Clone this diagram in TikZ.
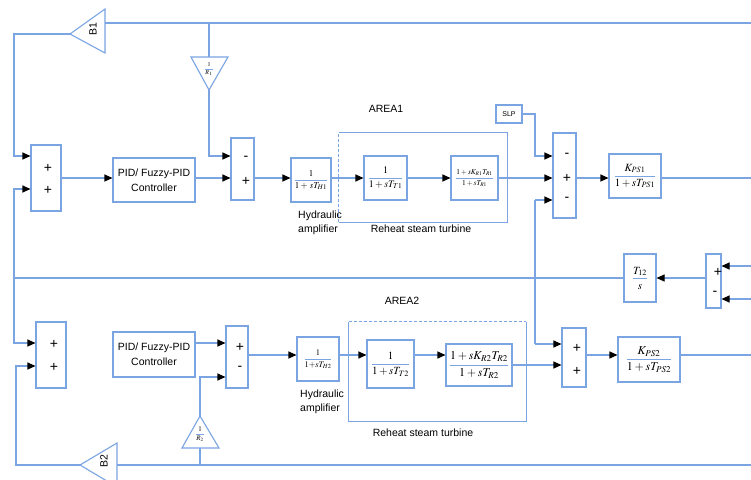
\documentclass[tikz,border=0pt]{standalone}
\usepackage{mathptmx}
\usepackage[no-math]{fontspec}
\setmainfont{Liberation Sans}
\usetikzlibrary{arrows.meta}
\definecolor{lb}{RGB}{122,164,226}
% fraction with a blue bar and black terms
\newcommand\bfr[2]{{\color{lb}\frac{\color{black}#1}{\color{black}#2}}}
\newcommand\fs[1]{\fontsize{#1}{#1}\selectfont}
\tikzset{
  blk/.style={draw=lb, line width=1.1pt, rectangle, inner sep=0pt, align=center},
  ln/.style={draw=lb, line width=1.1pt},
  arr/.style={ln, -{Triangle[length=8pt,width=7pt,color=black]}},
  sgn/.style={font=\fs{14}, inner sep=0pt},
  lbl/.style={font=\fs{10.5}, inner sep=0pt},
  lbl2/.style={font=\fontsize{10.5}{14}\selectfont, inner sep=0pt, align=left, anchor=west},
}
\begin{document}
\begin{tikzpicture}[x=1pt,y=-1pt]
\fill[white] (0,0) rectangle (751,479);
\useasboundingbox (0,0) rectangle (751,479);

% signal levels
\coordinate (y1) at (0,178);
\coordinate (y1a) at (0,156);
\coordinate (y1b) at (0,189);
\coordinate (y2) at (0,355);
\coordinate (y2a) at (0,343);
\coordinate (y2b) at (0,366);
\coordinate (y2c) at (0,377);

% ---------------- AREA 1 ----------------
\node[lbl] (area1) at (386,109) {AREA1};
\node[blk,minimum width=30pt,minimum height=66pt] (sum1) at (46,178) {};
\node[sgn] (s1a) at (48,168) {+};
\node[sgn] (s1b) at (48,190) {+};
\node[blk,minimum width=82pt,minimum height=44pt,font=\fontsize{10.5}{15}\selectfont] (pid1) at (154,180) {PID/ Fuzzy-PID\\Controller};
\node[blk,minimum width=23pt,minimum height=62pt] (sum1b) at (242.5,169) {};
\node[sgn] (s1c) at (246,158) {-};
\node[sgn] (s1d) at (246,181) {+};
\node[blk,minimum width=40pt,minimum height=44pt,font=\fs{9}] (hyd1) at (311,180) {$\displaystyle\bfr{1}{1+\,sT_{H1}}$};
\node[lbl2] (hyd1t) at (298,223) {Hydraulic\\amplifier};
\node[minimum width=168pt,minimum height=89pt,inner sep=0pt] (rh1) at (423,177.5) {};
\draw[ln] (rh1.north west) -- (rh1.north east) -- (rh1.south east) -- (rh1.south west);
\draw[ln,dash pattern=on 3pt off 2pt] (rh1.south west) -- (rh1.north west);
\node[lbl] (rh1t) at (421,229) {Reheat steam turbine};
\node[blk,minimum width=43pt,minimum height=44pt,font=\fs{10}] (turb1) at (385.5,178) {$\displaystyle\bfr{1}{1+sT_{T1}}$};
\node[blk,minimum width=47pt,minimum height=44pt,font=\fs{7.5}] (reh1) at (474.5,178) {$\displaystyle\bfr{1+sK_{R1}T_{R1}}{1+sT_{R1}}$};
\node[blk,minimum width=26pt,minimum height=18pt,font=\fs{7}] (slp) at (509,114) {SLP};
\node[blk,minimum width=23pt,minimum height=85pt] (sum1c) at (564.5,175.5) {};
\node[sgn] (s1e) at (567,155) {-};
\node[sgn] (s1f) at (567,178) {+};
\node[sgn] (s1g) at (567,199) {-};
\node[blk,minimum width=52pt,minimum height=44pt,font=\fs{11}] (kps1) at (635,176) {$\displaystyle\bfr{K_{PS1}}{1+sT_{PS1}}$};

% B1 gain and droop 1/R1
\coordinate (b1tip) at (70,34);
\coordinate (b1base) at (105,23);
\draw[ln] (105,9) -- (105,53) -- (b1tip) -- cycle;
\node[lbl,rotate=90] (b1t) at (93,29) {B1};
\coordinate (r1top) at (209,57);
\coordinate (r1tip) at (209,90);
\draw[ln] (191,57) -- (228,57) -- (r1tip) -- cycle;
\node[inner sep=0pt,font=\fs{6}] (r1t) at (209,69) {$\displaystyle\bfr{1}{R_{\,1}}$};
\coordinate (topR) at (751,23);
\coordinate (lx1) at (14,34);

% ---------------- tie line ----------------
\node[blk,minimum width=32pt,minimum height=48pt,font=\fs{11}] (t12) at (640,278) {$\displaystyle\bfr{T_{12}}{s}$};
\node[blk,minimum width=15pt,minimum height=54pt] (sumt) at (713.5,281) {};
\node[sgn] (sta) at (718,272) {+};
\node[sgn] (stb) at (715,293) {-};
\coordinate (ti1) at (751,266);
\coordinate (ti2) at (751,299);
\coordinate (lj) at (14,278);
\coordinate (vx) at (535,200);
\coordinate (vx2) at (535,344);

% ---------------- AREA 2 ----------------
\node[lbl] (area2) at (402,301) {AREA2};
\node[blk,minimum width=30pt,minimum height=66pt] (sum2) at (51,355) {};
\node[sgn] (s2a) at (54,344) {+};
\node[sgn] (s2b) at (54,367) {+};
\node[blk,minimum width=82pt,minimum height=45pt,font=\fontsize{10.5}{15}\selectfont] (pid2) at (154,354.5) {PID/ Fuzzy-PID\\Controller};
\node[blk,minimum width=22pt,minimum height=62pt] (sum2b) at (237,357) {};
\node[sgn] (s2c) at (240,347) {+};
\node[sgn] (s2d) at (240,368) {-};
\node[blk,minimum width=42pt,minimum height=44pt,font=\fs{8.5}] (hyd2) at (318,359) {$\displaystyle\bfr{1}{1{+}sT_{H2}}$};
\node[lbl2] (hyd2t) at (300,402) {Hydraulic\\amplifier};
\node[minimum width=177pt,minimum height=99pt,inner sep=0pt] (rh2) at (437.5,371.5) {};
\draw[ln] (rh2.north west) -- (rh2.south west) -- (rh2.south east) -- (rh2.north east);
\draw[ln,dash pattern=on 3pt off 2pt] (rh2.north west) -- (rh2.north east);
\node[lbl] (rh2t) at (423,433) {Reheat steam turbine};
\node[blk,minimum width=47pt,minimum height=48pt,font=\fs{11}] (turb2) at (390.5,364) {$\displaystyle\bfr{1}{1+sT_{T2}}$};
\node[blk,minimum width=66pt,minimum height=42pt,font=\fs{12}] (reh2) at (479,365) {$\displaystyle\bfr{1+sK_{R2}T_{R2}}{1+sT_{R2}}$};
\node[blk,minimum width=24pt,minimum height=59pt] (sum2c) at (574,357.5) {};
\node[sgn] (s2e) at (577,348) {+};
\node[sgn] (s2f) at (577,371) {+};
\node[blk,minimum width=62pt,minimum height=45pt,font=\fs{12}] (kps2) at (649,359.5) {$\displaystyle\bfr{K_{PS2}}{1+sT_{PS2}}$};

% B2 gain and droop 1/R2
\coordinate (b2tip) at (80,465);
\coordinate (b2base) at (117,465);
\draw[ln] (117,443) -- (117,487) -- (b2tip) -- cycle;
\node[lbl,rotate=90] (b2t) at (104,461) {B2};
\coordinate (r2base) at (200,448);
\coordinate (r2tip) at (200,416);
\draw[ln] (182,448) -- (219,448) -- (r2tip) -- cycle;
\node[inner sep=0pt,font=\fs{7}] (r2t) at (200,434) {$\displaystyle\bfr{1}{R_{2}}$};
\coordinate (botR) at (751,465);
\coordinate (lx2) at (16,465);

% ---------------- connectors, area 1 ----------------
\draw[ln] (topR) -- (b1base);
\draw[arr] (b1tip) -- (lx1) |- (sum1.west |- y1a);
\draw[ln] (r1top |- topR) -- (r1top);
\draw[arr] (r1tip) |- (sum1b.west |- y1a);
\draw[arr] (sum1.east) -- (pid1.west |- y1);
\draw[arr] (pid1.east |- y1) -- (sum1b.west |- y1);
\draw[arr] (sum1b.east |- y1) -- (hyd1.west |- y1);
\draw[arr] (hyd1.east |- y1) -- (turb1.west);
\draw[arr] (turb1.east) -- (reh1.west);
\draw[arr] (reh1.east) -- (sum1c.west |- y1);
\draw[arr] (slp.east) -| (vx |- y1a) -- (sum1c.west |- y1a);
\draw[arr] (sum1c.east |- y1) -- (kps1.west |- y1);
\draw[ln] (kps1.east |- y1) -- (751,178);

% ---------------- connectors, tie line ----------------
\draw[arr] (ti1) -- (sumt.east |- ti1);
\draw[arr] (ti2) -- (sumt.east |- ti2);
\draw[arr] (sumt.west |- t12.east) -- (t12.east);
\draw[ln] (t12.west) -- (lj);
\draw[arr] (lj) |- (sum1.west |- y1b);
\draw[arr] (lj) |- (sum2.west |- y2a);
\draw[ln] (vx) -- (vx2);
\draw[arr] (vx) -- (sum1c.west |- vx);
\draw[arr] (vx2) -- (sum2c.west |- vx2);

% ---------------- connectors, area 2 ----------------
\draw[ln] (botR) -- (b2base);
\draw[arr] (b2tip) -- (lx2) |- (sum2.west |- y2b);
\draw[ln] (r2base |- botR) -- (r2base);
\draw[arr] (r2tip) |- (sum2b.west |- y2c);
\draw[arr] (pid2.east |- y2a) -- (sum2b.west |- y2a);
\draw[arr] (sum2b.east |- y2) -- (hyd2.west |- y2);
\draw[arr] (hyd2.east |- y2) -- (turb2.west |- y2);
\draw[arr] (turb2.east |- y2) -- (reh2.west |- y2);
\draw[arr] (reh2.east) -- (sum2c.west |- reh2.east);
\draw[arr] (sum2c.east |- y2) -- (kps2.west |- y2);
\draw[ln] (kps2.east |- y2) -- (751,355);
\end{tikzpicture}
\end{document}
